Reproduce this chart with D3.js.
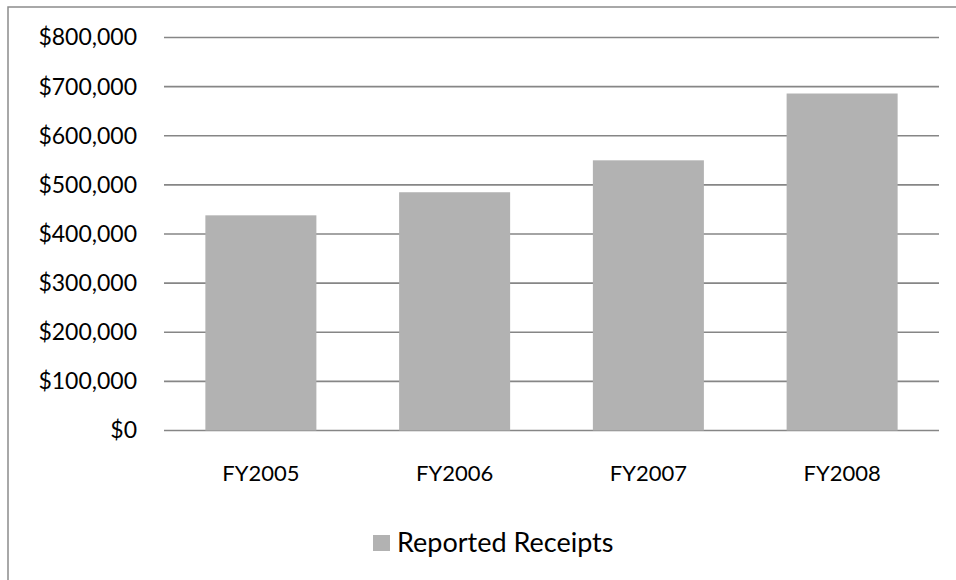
<!DOCTYPE html>
<html>
<head>
<meta charset="utf-8">
<script src="https://cdn.jsdelivr.net/npm/d3@7"></script>
<style>
  html, body { margin: 0; padding: 0; background: #fff; }
  svg { display: block; }
  text { font-family: Lato, "Open Sans", sans-serif; fill: #000; }
</style>
</head>
<body>
<svg id="chart" width="956" height="580"></svg>
<script>
// Reported receipts by fiscal year
const categories = ["FY2005", "FY2006", "FY2007", "FY2008"];
const receipts = [438000, 485000, 550000, 686000];
const yTicks = [0, 100000, 200000, 300000, 400000, 500000, 600000, 700000, 800000];
const seriesName = "Reported Receipts";

const svg = d3.select("#chart");
const W = 956, H = 580;
const plot = { left: 164, right: 939, top: 37.5, bottom: 430.5 };

// outer chart frame (extends past the right and bottom edges)
svg.append("rect")
  .attr("x", 8).attr("y", 7)
  .attr("width", W + 20).attr("height", H + 20)
  .attr("fill", "#fff")
  .attr("stroke", "#8c8c8c")
  .attr("stroke-width", 1.5);

const x = d3.scaleBand()
  .domain(categories)
  .range([plot.left, plot.right])
  .paddingInner(0.427)
  .paddingOuter(0.2135);

const y = d3.scaleLinear()
  .domain([0, 800000])
  .range([plot.bottom, plot.top]);

// horizontal gridlines
svg.append("g")
  .selectAll("line")
  .data(yTicks)
  .join("line")
  .attr("x1", plot.left).attr("x2", plot.right)
  .attr("y1", d => y(d)).attr("y2", d => y(d))
  .attr("stroke", "#868686")
  .attr("stroke-width", 1.6);

// bars
svg.append("g")
  .selectAll("rect")
  .data(receipts)
  .join("rect")
  .attr("x", (d, i) => x(categories[i]))
  .attr("width", x.bandwidth())
  .attr("y", d => y(d))
  .attr("height", d => y(0) - y(d))
  .attr("fill", "#b2b2b2");

// y-axis labels
const fmt = d => "$" + d3.format(",")(d);
const yAxis = d3.axisLeft(y).tickValues(yTicks).tickFormat(fmt).tickSize(0).tickPadding(0);
const ya = svg.append("g")
  .attr("transform", `translate(137,0)`)
  .call(yAxis);
ya.select(".domain").remove();
ya.selectAll("text")
  .attr("font-family", "Lato, 'Open Sans', sans-serif")
  .attr("font-size", 23)
  .attr("fill", "#000");

// x-axis category labels
const xAxis = d3.axisBottom(x).tickSize(0).tickPadding(0);
const xa = svg.append("g")
  .attr("transform", `translate(0,473)`)
  .call(xAxis);
xa.select(".domain").remove();
xa.selectAll("text")
  .attr("dy", "0.35em")
  .attr("font-family", "Lato, 'Open Sans', sans-serif")
  .attr("font-size", 22)
  .attr("fill", "#000");

// legend
const lg = svg.append("g");
lg.append("rect")
  .attr("x", 373).attr("y", 535)
  .attr("width", 17).attr("height", 16)
  .attr("fill", "#b2b2b2");
lg.append("text")
  .attr("x", 397).attr("y", 543)
  .attr("dy", "0.35em")
  .attr("font-size", 27)
  .text(seriesName);
</script>
</body>
</html>
